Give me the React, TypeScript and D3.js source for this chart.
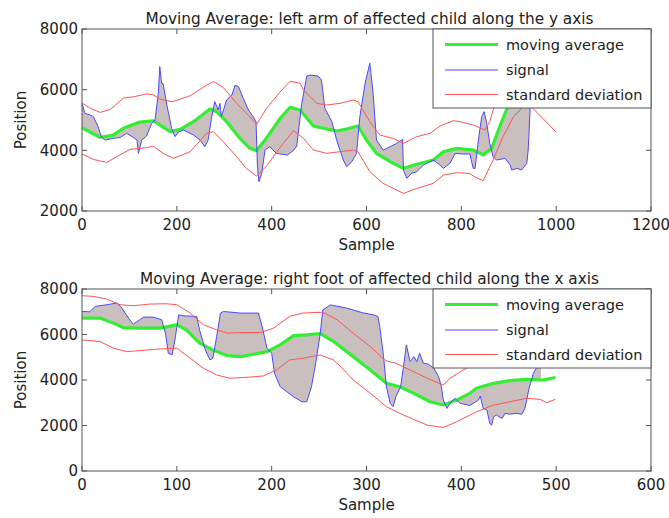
import React from 'react';
import * as d3 from 'd3';

type P = [number, number];

// ---------- Top panel: left arm, y axis ----------
const topSignal: P[] = [
  [0,5550],[6,5220],[17,5165],[24,5110],[34,4780],[41,4430],[49,4340],[66,4395],[80,4420],[94,4560],[108,4430],[116,4340],[119,3900],[126,4340],[136,4472],[147,4890],[154,5000],[161,5880],[164,6760],[168,6210],[171,6200],[179,5495],[189,4726],[196,4450],[203,4600],[214,4670],[235,4505],[249,4340],[259,4120],[266,4340],[273,5055],[280,5605],[287,5330],[291,5550],[294,5110],[305,5660],[316,5825],[323,6150],[330,6100],[340,5715],[351,5330],[361,5110],[367,4945],[370,3460],[373,2965],[379,3240],[386,4010],[396,4120],[410,3900],[433,3845],[447,4010],[453,4150],[463,5500],[474,6450],[481,6483],[498,6450],[505,6320],[508,5935],[512,5385],[527,4945],[537,4340],[551,3680],[558,3460],[569,3625],[579,3900],[586,5110],[597,6210],[607,6870],[614,5880],[621,4340],[635,4010],[650,4120],[664,4230],[676,4363],[678,3350],[685,3077],[695,3242],[706,3295],[720,3515],[741,3680],[755,3515],[762,3405],[776,3570],[787,3900],[801,3880],[818,3880],[825,3405],[829,3405],[836,4340],[843,5110],[848,5275],[853,4945],[860,4230],[867,3790],[874,3680],[892,3735],[903,3515],[906,3350],[917,3405],[927,3350],[938,3570],[941,4010],[945,5330],[948,6200]
];
const topAverage: P[] = [
  [0,4740],[20,4580],[38,4430],[66,4500],[87,4726],[122,4930],[150,4975],[164,4840],[186,4615],[207,4690],[235,4945],[270,5360],[284,5275],[305,4945],[333,4395],[354,4066],[368,3990],[389,4400],[418,5055],[439,5420],[460,5330],[488,4800],[509,4726],[537,4637],[558,4703],[582,4802],[600,4340],[621,3900],[650,3625],[678,3407],[706,3540],[741,3680],[762,3955],[790,4065],[825,4010],[846,3850],[864,4065],[881,4780],[895,5330],[920,6000],[950,6300]
];
const topUpper: P[] = [
  [0,5560],[17,5390],[38,5250],[60,5350],[87,5720],[110,5770],[136,5860],[150,5830],[164,5690],[190,5600],[228,5800],[263,6150],[277,6270],[298,6070],[326,5550],[354,5110],[368,4850],[389,5380],[418,5930],[439,6280],[460,6210],[467,5990],[488,5660],[495,5550],[516,5495],[544,5550],[572,5660],[582,5605],[607,4945],[628,4505],[656,4395],[678,4230],[706,4450],[734,4560],[755,4802],[783,4977],[797,4945],[825,4835],[850,4670],[860,4945],[867,5330],[900,6300],[950,5400],[1000,4600]
];
const topLower: P[] = [
  [0,3880],[24,3700],[52,3600],[73,3790],[101,4030],[136,4090],[150,4140],[171,3900],[193,3735],[228,3955],[263,4560],[277,4615],[298,4285],[326,3790],[347,3400],[368,3150],[389,3480],[418,4100],[446,4650],[467,4395],[488,4010],[516,3900],[544,3955],[572,4010],[582,3955],[607,3295],[635,2910],[678,2580],[706,2745],[741,2910],[762,3185],[790,3262],[818,3240],[825,3153],[846,3000],[867,3680],[888,4450],[910,5110],[927,5385],[945,5800]
];
const topXTicks = [0, 200, 400, 600, 800, 1000, 1200];
const topYTicks = [2000, 4000, 6000, 8000];

// ---------- Bottom panel: right foot, x axis ----------
const botSignal: P[] = [
  [0,7012],[8,7000],[14,7235],[26,7310],[37,7383],[42,7162],[49,6720],[54,6456],[61,6646],[65,6765],[75,6765],[84,6646],[88,6060],[91,5178],[95,5103],[98,5764],[102,6867],[107,6823],[121,6792],[124,6205],[130,5323],[135,4882],[138,4957],[142,5910],[146,6942],[149,7012],[167,6942],[186,6942],[190,6352],[195,5398],[200,5178],[203,4296],[209,3705],[216,3484],[223,3264],[232,3043],[237,3043],[242,3705],[247,4882],[251,5985],[254,7087],[262,7300],[279,7162],[297,6942],[307,6867],[312,6792],[314,6352],[318,5028],[321,3705],[325,2973],[328,2826],[331,3264],[336,3705],[339,4587],[342,5544],[346,4807],[350,5028],[353,4807],[356,5178],[360,4737],[365,4700],[371,4516],[376,4146],[379,3705],[381,3118],[385,2752],[388,2973],[393,3193],[399,2973],[409,2880],[418,3118],[420,3294],[423,2752],[427,2677],[430,2090],[432,2016],[434,2384],[437,2457],[443,2311],[446,2532],[451,2500],[458,2532],[464,2500],[467,2752],[469,3118],[471,3560],[473,3855],[476,4296],[480,4587],[484,5100]
];
const botAverage: P[] = [
  [0,6720],[19,6720],[33,6500],[44,6300],[61,6280],[82,6280],[100,6426],[110,6205],[124,5619],[138,5323],[153,5072],[167,5028],[181,5133],[195,5248],[209,5544],[223,5950],[237,5985],[251,6045],[265,5700],[286,5028],[304,4441],[321,3855],[335,3705],[350,3414],[367,3043],[381,2898],[395,3118],[409,3414],[416,3634],[434,3855],[451,3970],[469,4031],[486,4000],[499,4102]
];
const botUpper: P[] = [
  [0,7705],[12,7675],[26,7559],[40,7308],[54,7264],[72,7338],[89,7352],[100,7308],[114,6942],[128,6426],[142,6205],[153,6060],[170,6087],[188,6087],[202,6280],[219,6800],[233,6942],[254,6980],[269,6646],[286,6060],[304,5469],[320,4852],[331,4737],[346,4441],[364,4075],[381,3780],[388,4075],[402,4441],[409,4600],[430,5000],[500,5200]
];
const botLower: P[] = [
  [0,5764],[19,5690],[33,5398],[47,5248],[61,5292],[79,5354],[100,5398],[114,4957],[128,4516],[142,4220],[156,4075],[174,4119],[191,4177],[205,4441],[219,4882],[233,4957],[251,5103],[265,4882],[272,4618],[286,4000],[304,3414],[321,2826],[339,2457],[364,2016],[381,1914],[395,2163],[409,2457],[416,2604],[434,2898],[451,3043],[469,3193],[483,3149],[490,3000],[499,3149]
];
const botXTicks = [0, 100, 200, 300, 400, 500, 600];
const botYTicks = [0, 2000, 4000, 6000, 8000];

const legendLabels = ['moving average', 'signal', 'standard deviation'];

const GREEN = '#33ee33';
const BLUE = '#4a4aff';
const RED = '#ff5555';
const FILL = '#c9bfbf';
const FONT = '"DejaVu Sans", Verdana, sans-serif';
const TEXT = '#222';
const AXIS = '#555';

function interp(series: P[], x: number): number {
  if (x <= series[0][0]) return series[0][1];
  for (let i = 1; i < series.length; i++) {
    if (x <= series[i][0]) {
      const [x0, y0] = series[i - 1];
      const [x1, y1] = series[i];
      return y0 + ((y1 - y0) * (x - x0)) / (x1 - x0);
    }
  }
  return series[series.length - 1][1];
}

interface PanelProps {
  id: string;
  top: number;
  title: string;
  xMax: number;
  yMin: number;
  xTicks: number[];
  yTicks: number[];
  signal: P[];
  average: P[];
  upper: P[];
  lower: P[];
}

const LEFT = 82;
const RIGHT = 651;
const HEIGHT = 182;

function Panel(p: PanelProps) {
  const bottom = p.top + HEIGHT;
  const x = d3.scaleLinear().domain([0, p.xMax]).range([LEFT, RIGHT]);
  const y = d3.scaleLinear().domain([p.yMin, 8000]).range([bottom, p.top]);
  const line = d3.line<P>().x(d => x(d[0])).y(d => y(d[1]));

  const end = Math.min(p.signal[p.signal.length - 1][0], p.average[p.average.length - 1][0]);
  const xs = Array.from(new Set([...p.signal.map(d => d[0]), ...p.average.map(d => d[0])]))
    .filter(v => v <= end)
    .sort((a, b) => a - b);
  const fillData = xs.map(v => [v, interp(p.signal, v), interp(p.average, v)] as [number, number, number]);
  const area = d3.area<[number, number, number]>()
    .x(d => x(d[0]))
    .y0(d => y(d[1]))
    .y1(d => y(d[2]));

  const clipId = `clip-${p.id}`;
  const lgLeft = 433;
  const lgRight = RIGHT;
  const lgTop = p.top;
  const lgBottom = p.top + 79;
  const rows = [15.5, 41, 65.5];
  const colors = [GREEN, BLUE, RED];
  const widths = [3.2, 1, 1];
  const tick = 5;

  return (
    <g>
      <defs>
        <clipPath id={clipId}>
          <rect x={LEFT} y={p.top} width={RIGHT - LEFT} height={HEIGHT} />
        </clipPath>
      </defs>
      <g clipPath={`url(#${clipId})`}>
        <path d={area(fillData) || ''} fill={FILL} stroke="none" />
        <path d={line(p.average) || ''} fill="none" stroke={GREEN} strokeWidth={3.2} strokeLinejoin="round" />
        <path d={line(p.signal) || ''} fill="none" stroke={BLUE} strokeWidth={1} strokeLinejoin="round" />
        <path d={line(p.upper) || ''} fill="none" stroke={RED} strokeWidth={1} strokeLinejoin="round" />
        <path d={line(p.lower) || ''} fill="none" stroke={RED} strokeWidth={1} strokeLinejoin="round" />
      </g>
      <rect x={LEFT} y={p.top} width={RIGHT - LEFT} height={HEIGHT} fill="none" stroke={AXIS} strokeWidth={1} />
      {p.xTicks.map(t => (
        <g key={`x${t}`}>
          <line x1={x(t)} x2={x(t)} y1={bottom} y2={bottom - tick} stroke={AXIS} />
          <line x1={x(t)} x2={x(t)} y1={p.top} y2={p.top + tick} stroke={AXIS} />
          <text x={x(t)} y={bottom + 19} textAnchor="middle" fontSize={15} fontFamily={FONT} fill={TEXT}>{t}</text>
        </g>
      ))}
      {p.yTicks.map(t => (
        <g key={`y${t}`}>
          <line x1={LEFT} x2={LEFT + tick} y1={y(t)} y2={y(t)} stroke={AXIS} />
          <line x1={RIGHT} x2={RIGHT - tick} y1={y(t)} y2={y(t)} stroke={AXIS} />
          <text x={78} y={y(t)} dy="0.36em" textAnchor="end" fontSize={15} fontFamily={FONT} fill={TEXT}>{t}</text>
        </g>
      ))}
      <text x={(LEFT + RIGHT) / 2 + 3} y={p.top - 5.5} textAnchor="middle" fontSize={15.3} fontFamily={FONT} fill={TEXT}>{p.title}</text>
      <text x={(LEFT + RIGHT) / 2} y={bottom + 39} textAnchor="middle" fontSize={15} fontFamily={FONT} fill={TEXT}>Sample</text>
      <text transform={`translate(26, ${(p.top + bottom) / 2}) rotate(-90)`} textAnchor="middle" fontSize={15} fontFamily={FONT} fill={TEXT}>Position</text>
      <rect x={lgLeft} y={lgTop} width={lgRight - lgLeft} height={lgBottom - lgTop} fill="#fff" stroke={AXIS} strokeWidth={1} />
      {legendLabels.map((lab, i) => (
        <g key={lab}>
          <line x1={445} x2={498} y1={lgTop + rows[i]} y2={lgTop + rows[i]} stroke={colors[i]} strokeWidth={widths[i]} />
          <text x={506} y={lgTop + rows[i]} dy="0.36em" fontSize={14.5} fontFamily={FONT} fill={TEXT}>{lab}</text>
        </g>
      ))}
    </g>
  );
}

export default function App() {
  return (
    <svg width={669} height={518} style={{ position: 'absolute', left: 0, top: 0, background: '#fff' }}>
      <rect x={0} y={0} width={669} height={518} fill="#fff" />
      <Panel id="top" top={29} title="Moving Average: left arm of affected child along the y axis" xMax={1200} yMin={2000}
        xTicks={topXTicks} yTicks={topYTicks} signal={topSignal} average={topAverage} upper={topUpper} lower={topLower} />
      <Panel id="bot" top={289} title="Moving Average: right foot of affected child along the x axis" xMax={600} yMin={0}
        xTicks={botXTicks} yTicks={botYTicks} signal={botSignal} average={botAverage} upper={botUpper} lower={botLower} />
    </svg>
  );
}
